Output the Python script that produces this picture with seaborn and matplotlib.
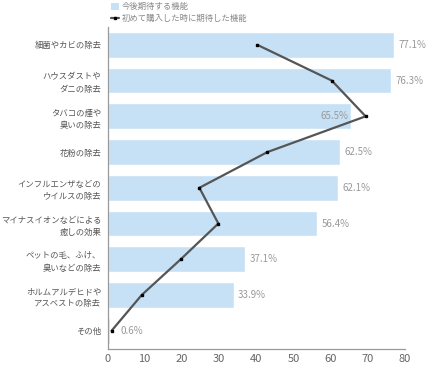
import numpy as np
import pandas as pd
import matplotlib
matplotlib.use("Agg")
import matplotlib.pyplot as plt
import seaborn as sns
from matplotlib.patches import Patch
from matplotlib.lines import Line2D

# data
categories = [
    "細菌やカビの除去",
    "ハウスダストや\nダニの除去",
    "タバコの煙や\n臭いの除去",
    "花粉の除去",
    "インフルエンザなどの\nウイルスの除去",
    "マイナスイオンなどによる\n癒しの効果",
    "ペットの毛、ふけ、\n臭いなどの除去",
    "ホルムアルデヒドや\nアスベストの除去",
    "その他",
]
expected_now = [77.1, 76.3, 65.5, 62.5, 62.1, 56.4, 37.1, 33.9, 0.6]
expected_first = [40.3, 60.3, 69.4, 43.0, 24.7, 29.8, 19.7, 9.2, 1.1]
x_ticks = [0, 10, 20, 30, 40, 50, 60, 70, 80]

bar_color = "#c6e1f6"
line_color = "#555555"
text_grey = "#999999"
label_grey = "#555555"

sns.set_style("white")
plt.rcParams['font.family'] = ['Noto Sans CJK JP', 'DejaVu Sans']

df = pd.DataFrame({"item": categories, "now": expected_now, "first": expected_first})

fig = plt.figure(figsize=(4.3, 3.65), dpi=100)
ax = fig.add_axes([0.25, 0.045, 0.692, 0.881])

sns.barplot(data=df, x="now", y="item", color=bar_color, width=0.72,
            saturation=1, ax=ax)

pos = np.arange(len(categories))
ax.plot(df["first"], pos, color=line_color, lw=1.6, marker="s", ms=1.8,
        mfc="black", mec="black", zorder=3)

# value labels
for i, v in enumerate(expected_now):
    if i == 2:
        # placed inside the bar so the line doesn't cover it
        ax.text(v - 0.8, i, f"{v}%", ha="right", va="center",
                fontsize=7, color=text_grey)
    elif i == 8:
        ax.text(v + 2.8, i, f"{v}%", ha="left", va="center",
                fontsize=7, color=text_grey)
    else:
        ax.text(v + 1.2, i, f"{v}%", ha="left", va="center",
                fontsize=7, color=text_grey)

ax.set_xlim(0, 80)
ax.set_ylim(8.5, -0.5)
ax.set_xticks(x_ticks)
ax.set_xlabel("")
ax.set_ylabel("")
ax.tick_params(axis="x", direction="in", length=7, color="#999999",
               labelsize=8, labelcolor="#666666", pad=4)
ax.tick_params(axis="y", length=0, labelsize=6, labelcolor=label_grey, pad=4.5)
for lbl in ax.get_yticklabels():
    lbl.set_linespacing(1.5)

for side in ["top", "right"]:
    ax.spines[side].set_visible(False)
for side in ["left", "bottom"]:
    ax.spines[side].set_color("#999999")
    ax.spines[side].set_linewidth(0.9)

handles = [
    Patch(facecolor=bar_color, edgecolor="none", label="今後期待する機能"),
    Line2D([0], [0], color=line_color, lw=1.6, marker="s", ms=1.8,
           mfc="black", mec="black", label="初めて購入した時に期待した機能"),
]
fig.legend(handles=handles, loc="upper left", bbox_to_anchor=(0.245, 1.01),
           frameon=False, fontsize=6, labelcolor="#888888",
           handlelength=0.9, handleheight=0.9, handletextpad=0.4,
           labelspacing=0.35, borderpad=0.2)

fig.savefig("out.png", dpi=100)
